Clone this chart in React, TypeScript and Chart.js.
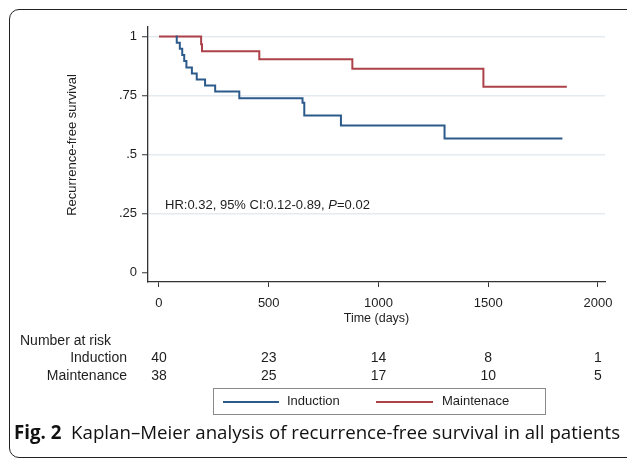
import React, { useEffect, useRef } from "react";
import { Chart, registerables } from "chart.js";

Chart.register(...registerables);

// ---- Data ----
const inductionDays = [76, 81, 95, 106, 115, 125, 150, 172, 210, 256, 366, 654, 662, 829, 1301, 1838];
const inductionSurv = [1, 0.974, 0.948, 0.922, 0.896, 0.869, 0.843, 0.818, 0.793, 0.767, 0.739, 0.72, 0.665, 0.623, 0.568, 0.568];

const maintenanceDays = [0, 192, 196, 457, 881, 1478, 1858];
const maintenanceSurv = [1, 0.967, 0.938, 0.904, 0.864, 0.787, 0.787];

const xTickValues = [0, 500, 1000, 1500, 2000];
const yTickValues = [0, 0.25, 0.5, 0.75, 1];
const yTickLabels = ["0", ".25", ".5", ".75", "1"];

const riskTimes = [0, 500, 1000, 1500, 2000];
const riskInduction = [40, 23, 14, 8, 1];
const riskMaintenance = [38, 25, 17, 10, 5];

const seriesNames = ["Induction", "Maintenace"];
const riskRowNames = ["Induction", "Maintenance"];

const BLUE = "#2c5b8b";
const RED = "#ad4149";
const FONT = "'Liberation Sans', Arial, sans-serif";
const TXT = "#1e1e1e";

const extrasPlugin = {
  id: "kmExtras",
  afterDraw(chart: any) {
    const ctx = chart.ctx;
    const xs = chart.scales.x;
    ctx.save();
    ctx.fillStyle = TXT;
    // y-axis title
    ctx.save();
    ctx.translate(72, 145);
    ctx.rotate(-Math.PI / 2);
    ctx.font = `13px ${FONT}`;
    ctx.textAlign = "center";
    ctx.textBaseline = "middle";
    ctx.fillText("Recurrence-free survival", 0, 0);
    ctx.restore();

    // HR annotation
    ctx.font = `13px ${FONT}`;
    ctx.textAlign = "left";
    ctx.textBaseline = "middle";
    const p1 = "HR:0.32, 95% CI:0.12-0.89, ";
    let x = 165;
    const y = 205;
    ctx.fillText(p1, x, y);
    x += ctx.measureText(p1).width;
    ctx.font = `italic 13px ${FONT}`;
    ctx.fillText("P", x, y);
    x += ctx.measureText("P").width;
    ctx.font = `13px ${FONT}`;
    ctx.fillText("=0.02", x, y);

    // Number at risk table
    ctx.font = `14px ${FONT}`;
    ctx.textAlign = "left";
    ctx.fillText("Number at risk", 20, 341);
    ctx.textAlign = "right";
    ctx.fillText(riskRowNames[0], 127, 358);
    ctx.fillText(riskRowNames[1], 127, 376);
    ctx.textAlign = "center";
    riskTimes.forEach((t, i) => {
      const px = xs.getPixelForValue(t);
      ctx.fillText(String(riskInduction[i]), px, 358);
      ctx.fillText(String(riskMaintenance[i]), px, 376);
    });
    ctx.restore();
  },
};

export default function App() {
  const ref = useRef<HTMLCanvasElement | null>(null);

  useEffect(() => {
    const canvas = ref.current!;
    const toPts = (xsArr: number[], ysArr: number[]) => xsArr.map((d, i) => ({ x: d, y: ysArr[i] }));
    const chart = new Chart(canvas, {
      type: "line",
      data: {
        datasets: [
          {
            label: seriesNames[0],
            data: toPts(inductionDays, inductionSurv),
            borderColor: BLUE,
            borderWidth: 2,
            pointRadius: 0,
            stepped: "before",
            fill: false,
          },
          {
            label: seriesNames[1],
            data: toPts(maintenanceDays, maintenanceSurv),
            borderColor: RED,
            borderWidth: 2,
            pointRadius: 0,
            stepped: "before",
            fill: false,
          },
        ],
      },
      options: {
        animation: false,
        responsive: false,
        devicePixelRatio: 1,
        layout: { padding: { left: 0, top: 27, right: 22, bottom: 129 } },
        plugins: { legend: { display: false }, tooltip: { enabled: false } },
        scales: {
          x: {
            type: "linear",
            min: -50,
            max: 2032,
            afterFit: (s: any) => {
              s.height = 48;
            },
            afterBuildTicks: (s: any) => {
              s.ticks = xTickValues.map((v) => ({ value: v }));
            },
            grid: {
              drawOnChartArea: false,
              drawTicks: true,
              tickLength: 5,
              tickColor: "#333",
              tickWidth: 1,
            },
            border: { color: "#333", width: 1.3 },
            ticks: {
              color: TXT,
              font: { family: FONT, size: 13 },
              padding: 9,
              maxRotation: 0,
              callback: (v: any) => String(v),
            },
            title: {
              display: true,
              text: "Time (days)",
              color: TXT,
              font: { family: FONT, size: 12.5 },
              padding: { top: 0, bottom: 4 },
            },
          },
          y: {
            type: "linear",
            min: -0.04,
            max: 1.0405,
            afterFit: (s: any) => {
              s.width = 148;
            },
            afterBuildTicks: (s: any) => {
              s.ticks = yTickValues.map((v) => ({ value: v }));
            },
            grid: {
              color: (c: any) => (c.tick && c.tick.value === 0 ? "rgba(0,0,0,0)" : "#e3ebf0"),
              lineWidth: 1.5,
              drawTicks: true,
              tickLength: 6,
              tickColor: "#333",
              tickWidth: 1,
            },
            border: { color: "#333", width: 1.3 },
            ticks: {
              color: TXT,
              font: { family: FONT, size: 13 },
              padding: 5,
              callback: (v: any) => {
                const i = yTickValues.indexOf(Number(v));
                return i >= 0 ? yTickLabels[i] : "";
              },
            },
          },
        },
      },
      plugins: [extrasPlugin],
    } as any);
    return () => chart.destroy();
  }, []);

  return (
    <div
      style={{
        position: "fixed",
        left: 0,
        top: 0,
        width: 627,
        height: 459,
        background: "#fff",
        overflow: "hidden",
      }}
    >
      <div
        style={{
          position: "absolute",
          left: 9,
          top: 9,
          width: 640,
          height: 449,
          border: "1.5px solid #222",
          borderRadius: 10,
          boxSizing: "border-box",
        }}
      />
      <canvas
        ref={ref}
        width={627}
        height={459}
        style={{ position: "absolute", left: 0, top: 0, width: 627, height: 459 }}
      />
      <div
        style={{
          position: "absolute",
          left: 213,
          top: 388,
          width: 333,
          height: 27,
          border: "1px solid #8a8a8a",
          boxSizing: "border-box",
          fontFamily: FONT,
          fontSize: 13,
          color: TXT,
        }}
      >
        <div style={{ position: "absolute", left: 9, top: 12, width: 56, height: 2, background: BLUE }} />
        <div style={{ position: "absolute", left: 73, top: 4, lineHeight: "16px" }}>{seriesNames[0]}</div>
        <div style={{ position: "absolute", left: 162, top: 12, width: 57, height: 2, background: RED }} />
        <div style={{ position: "absolute", left: 228, top: 4, lineHeight: "16px" }}>{seriesNames[1]}</div>
      </div>
      <div
        style={{
          position: "absolute",
          left: 14,
          top: 419,
          whiteSpace: "nowrap",
          fontFamily: "'Open Sans', 'Noto Sans', sans-serif",
          fontSize: 18.7,
          lineHeight: "26px",
          color: "#111",
        }}
      >
        <span style={{ fontWeight: 700 }}>Fig. 2</span>
        <span>{"\u00a0 Kaplan\u2013Meier analysis of recurrence-free survival in all patients"}</span>
      </div>
    </div>
  );
}
